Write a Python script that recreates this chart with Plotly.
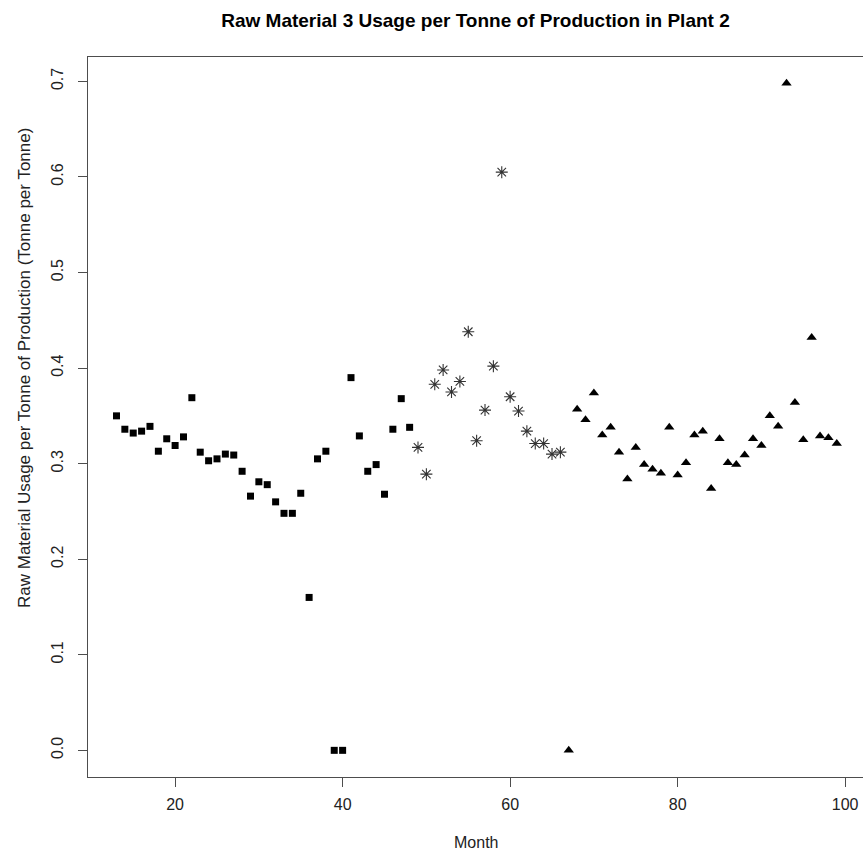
import plotly.graph_objects as go

# Plant 2, Raw Material 3 usage per tonne of production, by month
months_a = [13, 14, 15, 16, 17, 18, 19, 20, 21, 22, 23, 24, 25, 26, 27, 28, 29, 30,
            31, 32, 33, 34, 35, 36, 37, 38, 39, 40, 41, 42, 43, 44, 45, 46, 47, 48]
usage_a = [0.350, 0.336, 0.332, 0.334, 0.339, 0.313, 0.326, 0.319, 0.328, 0.369,
           0.312, 0.303, 0.305, 0.310, 0.309, 0.292, 0.266, 0.281, 0.278, 0.260,
           0.248, 0.248, 0.269, 0.160, 0.305, 0.313, 0.000, 0.000, 0.390, 0.329,
           0.292, 0.299, 0.268, 0.336, 0.368, 0.338]

months_b = [49, 50, 51, 52, 53, 54, 55, 56, 57, 58, 59, 60, 61, 62, 63, 64, 65, 66]
usage_b = [0.317, 0.289, 0.383, 0.398, 0.375, 0.386, 0.438, 0.324, 0.356, 0.402,
           0.605, 0.370, 0.355, 0.334, 0.321, 0.321, 0.310, 0.312]

months_c = [67, 68, 69, 70, 71, 72, 73, 74, 75, 76, 77, 78, 79, 80, 81, 82, 83,
            84, 85, 86, 87, 88, 89, 90, 91, 92, 93, 94, 95, 96, 97, 98, 99]
usage_c = [0.000, 0.357, 0.346, 0.374, 0.330, 0.338, 0.312, 0.284, 0.317, 0.299,
           0.294, 0.290, 0.338, 0.288, 0.301, 0.330, 0.334, 0.274, 0.326, 0.301,
           0.299, 0.309, 0.326, 0.319, 0.350, 0.339, 0.698, 0.364, 0.325, 0.432,
           0.329, 0.327, 0.321]

x_ticks = [20, 40, 60, 80, 100]
y_ticks = [0.0, 0.1, 0.2, 0.3, 0.4, 0.5, 0.6, 0.7]
y_tick_text = ["0.0", "0.1", "0.2", "0.3", "0.4", "0.5", "0.6", "0.7"]

title_text = "Raw Material 3 Usage per Tonne of Production in Plant 2"
x_title = "Month"
y_title = "Raw Material Usage per Tonne of Production (Tonne per Tonne)"

FONT = "Liberation Sans, Arial, Helvetica, sans-serif"
AXC = "#4d4d4d"

fig = go.Figure()
fig.add_trace(go.Scatter(x=months_a, y=usage_a, mode="markers",
                         marker=dict(symbol="square", size=7, color="black",
                                     line=dict(width=0)),
                         showlegend=False, cliponaxis=False))
fig.add_trace(go.Scatter(x=months_b, y=usage_b, mode="markers",
                         marker=dict(symbol="asterisk-open", size=10, color="#333333",
                                     line=dict(width=1.1, color="#333333")),
                         showlegend=False, cliponaxis=False))
fig.add_trace(go.Scatter(x=months_c, y=usage_c, mode="markers",
                         marker=dict(symbol="triangle-up", size=9, color="black",
                                     line=dict(width=0)),
                         showlegend=False, cliponaxis=False))

plot_w = 863 - 88
plot_h = 857 - 57 - 80

fig.update_layout(
    width=863, height=857,
    margin=dict(l=88, r=0, t=57, b=80),
    paper_bgcolor="white", plot_bgcolor="white",
    font=dict(family=FONT, size=16, color="black"),
    title=dict(text="<b>" + title_text + "</b>", x=0.5, xref="paper",
               xanchor="center", y=1 - 20 / 857, yref="container", yanchor="middle",
               font=dict(family=FONT, size=19, color="black")),
    xaxis=dict(range=[9.6, 102.13], tickvals=x_ticks, ticks="outside", ticklen=9,
               tickcolor=AXC, tickwidth=1, showline=True, linecolor=AXC, linewidth=1.3,
               mirror=True, showgrid=False, zeroline=False, ticklabelstandoff=4,
               tickfont=dict(size=16, color="#222")),
    yaxis=dict(range=[-0.0279, 0.7255], tickvals=y_ticks, ticktext=y_tick_text,
               ticks="outside", ticklen=9, tickcolor=AXC, tickwidth=1, tickangle=-90,
               showline=True, linecolor=AXC, linewidth=1.3, mirror=False,
               showgrid=False, zeroline=False, ticklabelstandoff=8,
               tickfont=dict(size=16, color="#222")),
    annotations=[
        dict(text=x_title, x=0.5, xref="paper", y=-(843 - 777) / plot_h, yref="paper",
             showarrow=False, font=dict(size=16, color="#222"),
             xanchor="center", yanchor="middle"),
        dict(text=y_title, x=-(88 - 24) / plot_w, y=(777 - 368) / plot_h,
             xref="paper", yref="paper",
             showarrow=False, font=dict(size=17, color="#222"),
             textangle=-90, xanchor="center", yanchor="middle"),
    ],
)

fig.write_html("out.html")
